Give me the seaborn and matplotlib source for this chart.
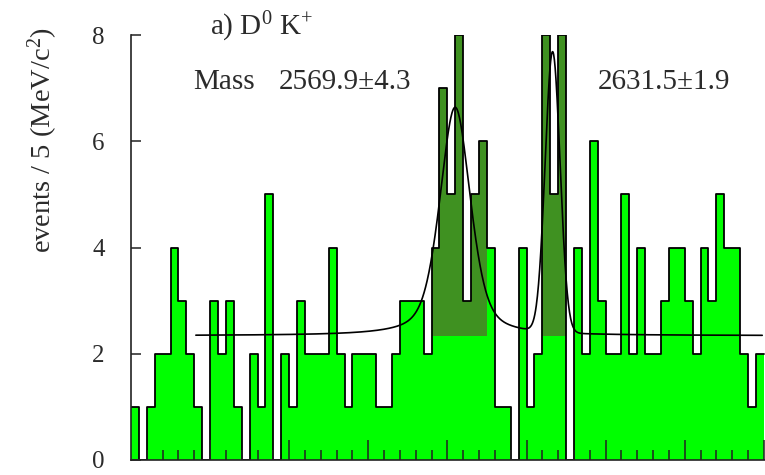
import numpy as np
import pandas as pd
import matplotlib
matplotlib.use("Agg")
import matplotlib.pyplot as plt
import seaborn as sns
from matplotlib.ticker import FixedLocator

# D0 K+ invariant mass spectrum, 5 MeV/c^2 bins starting at mass_lo
mass_lo = 2365.0
bin_width = 5.0
counts = [1, 0, 1, 2, 2, 4, 3, 2, 1, 0,
          3, 2, 3, 1, 0, 2, 1, 5, 0, 2,
          1, 3, 2, 2, 2, 4, 2, 1, 2, 2,
          2, 1, 1, 2, 3, 3, 3, 2, 4, 7,
          5, 8, 3, 5, 6, 4, 1, 1, 0, 4,
          1, 2, 8, 5, 8, 0, 4, 2, 6, 3,
          2, 2, 5, 2, 4, 2, 2, 3, 4, 4,
          3, 2, 4, 3, 5, 4, 4, 2, 1, 2]

# fit: flat background plus two peaks
background = 2.34
peak_masses = [2569.9, 2631.5]
peak_errors = [4.3, 1.9]
peak_amplitudes = [4.30, 5.28]
peak_hwhm = [11.5, 5.53]
peak_lorentz_frac = [0.46, 0.0]
fit_range = (2406.0, 2764.0)
signal_windows = [(2550.0, 2590.0), (2620.0, 2645.0)]

LIGHT = "#00ff00"
DARK = "#3f9121"
INK = "#2b2b2b"

sns.set_style("ticks")
plt.rcParams["font.family"] = ["Liberation Serif", "DejaVu Serif"]
plt.rcParams["mathtext.fontset"] = "custom"
plt.rcParams["mathtext.rm"] = "Liberation Serif"
plt.rcParams["mathtext.it"] = "Liberation Serif:italic"
plt.rcParams["mathtext.bf"] = "Liberation Serif:bold"


def fit_curve(m):
    y = np.full_like(m, background, dtype=float)
    for m0, a, w, eta in zip(peak_masses, peak_amplitudes, peak_hwhm, peak_lorentz_frac):
        u = (m - m0) / w
        lor = 1.0 / (1.0 + u ** 2)
        gau = np.exp(-np.log(2.0) * u ** 2)
        y += a * (eta * lor + (1.0 - eta) * gau)
    return y


counts = np.asarray(counts, dtype=float)
edges = mass_lo + bin_width * np.arange(len(counts) + 1)
centers = 0.5 * (edges[:-1] + edges[1:])
df = pd.DataFrame({"mass": centers, "events": counts})
bin_list = [float(e) for e in edges]

fig = plt.figure(figsize=(7.65, 4.75), dpi=100)
ax = fig.add_axes([131 / 765, 15 / 475, 634 / 765, 425 / 475])

# light green histogram body
sns.histplot(data=df, x="mass", weights="events", bins=bin_list, element="step",
             fill=True, color=LIGHT, alpha=1.0, linewidth=0, ax=ax)

# signal excess above the fitted background in the peak windows
in_window = np.zeros(len(counts), dtype=bool)
for lo, hi in signal_windows:
    in_window |= (centers > lo) & (centers < hi)
sel = in_window & (counts > background)
ax.bar(centers[sel], counts[sel] - background, bottom=background, width=bin_width,
       color=DARK, linewidth=0, zorder=1.5)

# black histogram outline
sns.histplot(data=df, x="mass", weights="events", bins=bin_list, element="step",
             fill=False, color="black", linewidth=1.3, ax=ax, zorder=2)

# fitted curve
m = np.linspace(fit_range[0], fit_range[1], 1500)
sns.lineplot(x=m, y=fit_curve(m), color="black", linewidth=1.2, ax=ax, zorder=3)

ax.set_xlim(mass_lo, mass_lo + 634 / 1.582)
ax.set_ylim(0, 8)
ax.set_axisbelow(False)
ax.set_xlabel("")
ax.set_ylabel("events / 5 (MeV/c$^{\\mathrm{2}}$)", fontsize=20.5, color=INK, va="center")
ax.yaxis.set_label_coords(-0.139, 0.752)

ax.set_yticks([0, 2, 4, 6, 8])
ax.xaxis.set_major_locator(FixedLocator(np.arange(mass_lo + 50, edges[-1] + 1, 50)))
ax.xaxis.set_minor_locator(FixedLocator(np.arange(mass_lo + 10, edges[-1] + 1, 10)))
ax.tick_params(axis="x", which="major", direction="in", length=14.5, width=1.1,
               color="#222222", labelbottom=False)
ax.tick_params(axis="x", which="minor", direction="in", length=7.2, width=1.1,
               color="#222222")
ax.tick_params(axis="y", which="major", direction="in", length=7.2, width=1.1,
               color="#222222", pad=19, labelsize=18, labelcolor=INK)
sns.despine(ax=ax)
for side in ("left", "bottom"):
    ax.spines[side].set_linewidth(1.2)
    ax.spines[side].set_color("#222222")

# labels
ax.text(0.1246, 1.0, "a) D$^{\\mathrm{0}}$ K$^{\\mathrm{+}}$", transform=ax.transAxes,
        fontsize=21, color=INK, ha="left", va="baseline")
ax.text(0.0978, 0.873, "Mass", transform=ax.transAxes,
        fontsize=21, color=INK, ha="left", va="baseline")
ax.text(0.2334, 0.873, f"{peak_masses[0]:.1f}\u00b1{peak_errors[0]:.1f}",
        transform=ax.transAxes, fontsize=21, color=INK, ha="left", va="baseline")
ax.text(0.7366, 0.873, f"{peak_masses[1]:.1f}\u00b1{peak_errors[1]:.1f}",
        transform=ax.transAxes, fontsize=21, color=INK, ha="left", va="baseline")

fig.savefig("out.png", dpi=100)
